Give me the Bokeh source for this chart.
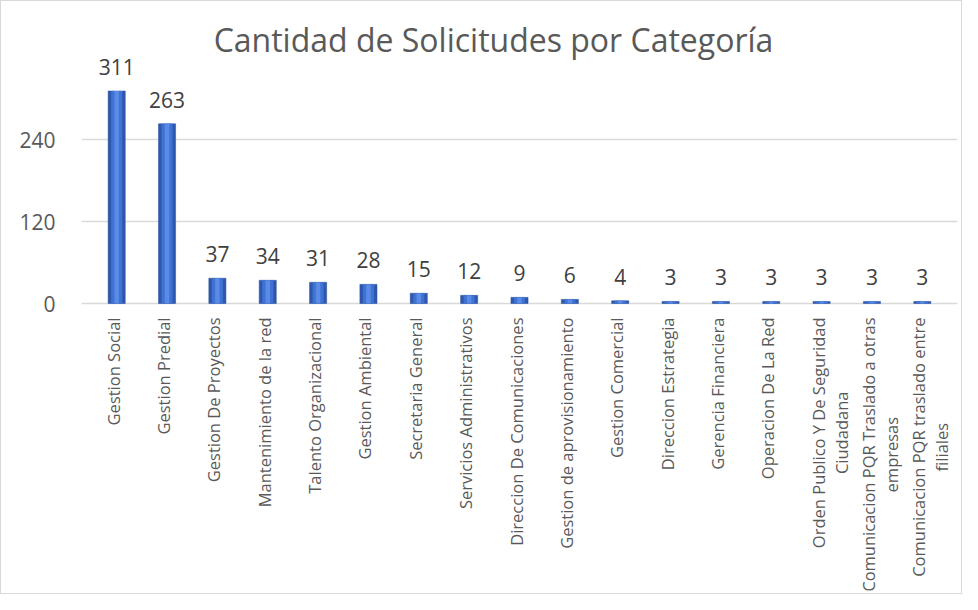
import math
from bokeh.plotting import figure
from bokeh.models import Range1d, FactorRange, FixedTicker, ColumnDataSource, Label
from bokeh.embed import file_html
from bokeh.resources import INLINE
from bokeh.core.properties import value

categories = [
    "Gestion Social", "Gestion Predial", "Gestion De Proyectos",
    "Mantenimiento de la red", "Talento Organizacional", "Gestion Ambiental",
    "Secretaria General", "Servicios Administrativos",
    "Direccion De Comunicaciones", "Gestion de aprovisionamiento",
    "Gestion Comercial", "Direccion Estrategia", "Gerencia Financiera",
    "Operacion De La Red", "Orden Publico Y De Seguridad\nCiudadana",
    "Comunicacion PQR Traslado a otras\nempresas",
    "Comunicacion PQR traslado entre\nfiliales",
]
counts = [311, 263, 37, 34, 31, 28, 15, 12, 9, 6, 4, 3, 3, 3, 3, 3, 3]
y_ticks = [0, 120, 240]
title_text = "Cantidad de Solicitudes por Categoría"

src = ColumnDataSource(dict(cat=categories, val=counts,
                            lab=[str(v) for v in counts],
                            zero=[0] * len(counts)))

FONT = "Open Sans"
p = figure(width=962, height=594, output_backend="svg", toolbar_location=None,
           x_range=FactorRange(factors=categories, range_padding=0.199,
                               range_padding_units="absolute"),
           y_range=Range1d(-420, 412.7),
           min_border_left=80, min_border_right=6,
           min_border_top=20, min_border_bottom=5)

p.vbar(x="cat", top="val", width=0.34, source=src,
       fill_color="#2D58AE", line_color="#284F9C", line_width=0.5)
p.vbar(x="cat", top="val", width=0.22, source=src,
       fill_color="#3F72D2", line_color=None)
p.vbar(x="cat", top="val", width=0.09, source=src,
       fill_color="#5A8BE6", line_color=None)

# value labels
p.text(x="cat", y="val", text="lab", source=src, text_align="center",
       text_baseline="alphabetic", y_offset=-24, text_font=value(FONT),
       text_font_size="21px", text_color="#404040")

# category labels (rotated, lines centred)
p.text(x="cat", y="zero", text="cat", source=src, angle=math.pi / 2,
       anchor="top_right", text_align="center", text_baseline="middle",
       x_offset=-15, y_offset=14, text_font=value(FONT),
       text_font_size="16.5px", text_line_height=1.0, text_color="#595959")

p.add_layout(Label(x=len(categories) / 2, y=386.4, text=title_text,
                   x_offset=-26, text_align="center", text_baseline="middle",
                   text_font=FONT, text_font_size="32px",
                   text_color="#595959"))

p.outline_line_color = None
p.xgrid.grid_line_color = None
p.ygrid.grid_line_color = "#D9D9D9"
p.ygrid.grid_line_width = 1.5

p.yaxis.ticker = FixedTicker(ticks=y_ticks)
p.ygrid.ticker = FixedTicker(ticks=y_ticks)
p.yaxis.axis_line_color = None
p.yaxis.major_tick_line_color = None
p.yaxis.minor_tick_line_color = None
p.yaxis.major_label_text_font = FONT
p.yaxis.major_label_text_font_size = "21px"
p.yaxis.major_label_text_color = "#595959"
p.yaxis.major_label_standoff = 20

p.xaxis.visible = False

p.styles = {"border": "1px solid #D9D9D9"}

open("out.html", "w").write(file_html(p, INLINE))
